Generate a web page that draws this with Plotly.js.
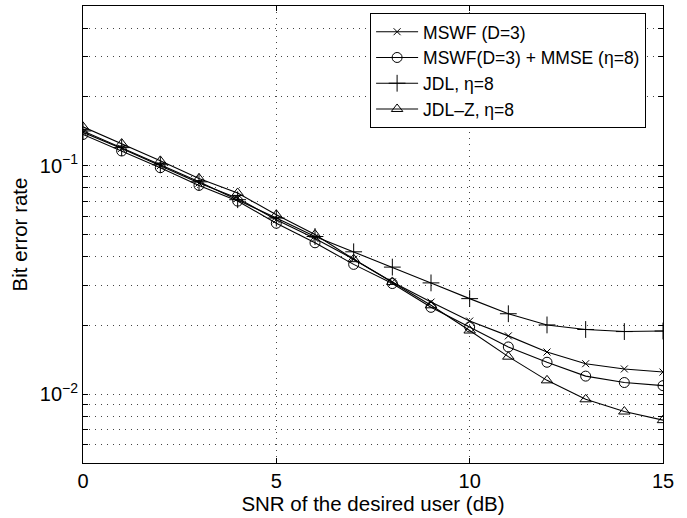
<!DOCTYPE html>
<html>
<head>
<meta charset="utf-8">
<script src="https://cdn.plot.ly/plotly-3.0.1.min.js"></script>
<style>html,body{margin:0;padding:0;background:#fff;}#chart{width:687px;height:518px;}</style>
</head>
<body>
<div id="chart"></div>
<script>
const snr = [0,1,2,3,4,5,6,7,8,9,10,11,12,13,14,15];
const mswf = [0.140,0.119,0.100,0.084,0.072,0.058,0.048,0.039,0.031,0.0253,0.0209,0.0180,0.0153,0.0136,0.0129,0.0125];
const mswfMmse = [0.137,0.116,0.098,0.082,0.070,0.056,0.046,0.037,0.0305,0.0240,0.0197,0.0161,0.0138,0.0120,0.01125,0.0109];
const jdl = [0.142,0.120,0.101,0.085,0.071,0.059,0.049,0.042,0.036,0.0307,0.0262,0.0225,0.0201,0.0192,0.0188,0.0189];
const jdlZ = [0.148,0.125,0.105,0.088,0.076,0.061,0.050,0.039,0.031,0.0245,0.0190,0.0146,0.0115,0.0095,0.0084,0.0077];
const seriesNames = ['MSWF (D=3)','MSWF(D=3) + MMSE (η=8)','JDL, η=8','JDL–Z, η=8'];
const yMinorVals = [0.006,0.007,0.008,0.009,0.02,0.03,0.04,0.05,0.06,0.07,0.08,0.09,0.2,0.3,0.4];
const yTickVals = [0.01, 0.1];
const yTickText = ['10<sup>−2</sup>', '10<sup>−1</sup>'];
const xTickVals = [0,5,10,15];

const font = 'Liberation Sans, Arial, Helvetica, sans-serif';
function tr(y, name, symbol, size) {
  return {x: snr, y: y, name: name, type: 'scatter', mode: 'lines+markers',
    line: {color: '#000', width: 1.1},
    marker: {symbol: symbol, size: size, color: '#000', line: {color: '#000', width: 1}}};
}
const data = [
  tr(mswf, seriesNames[0], 'x-thin-open', 7),
  tr(mswfMmse, seriesNames[1], 'circle-open', 10),
  tr(jdl, seriesNames[2], 'cross-thin-open', 12),
  tr(jdlZ, seriesNames[3], 'triangle-up-open', 10)
];
const gridDash = '1px,5px';
const layout = {
  width: 687, height: 518,
  margin: {l: 83, r: 24, t: 6, b: 55},
  paper_bgcolor: '#fff', plot_bgcolor: '#fff',
  font: {family: font, size: 20, color: '#000'},
  showlegend: true,
  legend: {x: 0.495, y: 0.985, xanchor: 'left', yanchor: 'top',
    bgcolor: '#fff', bordercolor: '#000', borderwidth: 1, itemwidth: 42,
    font: {family: font, size: 17.5, color: '#000'}, tracegroupgap: 0},
  xaxis: {range: [0, 15], tickvals: xTickVals, ticks: 'inside', ticklen: 5, tickcolor: '#000',
    showline: true, linecolor: '#000', linewidth: 1, mirror: 'ticks',
    showgrid: true, gridcolor: '#444', griddash: gridDash, gridwidth: 1, zeroline: false,
    tickfont: {size: 20},
    title: {text: 'SNR of the desired user (dB)', font: {size: 20.5}, standoff: 4}},
  yaxis: {type: 'log', range: [Math.log10(0.005), Math.log10(0.5)], tickvals: yTickVals, ticktext: yTickText,
    ticks: 'inside', ticklen: 5, tickcolor: '#000',
    showline: true, linecolor: '#000', linewidth: 1, mirror: 'ticks',
    showgrid: true, gridcolor: '#444', griddash: gridDash, gridwidth: 1, zeroline: false,
    minor: {tickvals: yMinorVals, ticks: 'inside', ticklen: 5, tickcolor: '#000',
      showgrid: true, gridcolor: '#444', griddash: gridDash, gridwidth: 1},
    tickfont: {size: 20},
    title: {text: 'Bit error rate', font: {size: 20.5}, standoff: 6}}
};
Plotly.newPlot('chart', data, layout, {displayModeBar: false, staticPlot: true});
</script>
</body>
</html>
